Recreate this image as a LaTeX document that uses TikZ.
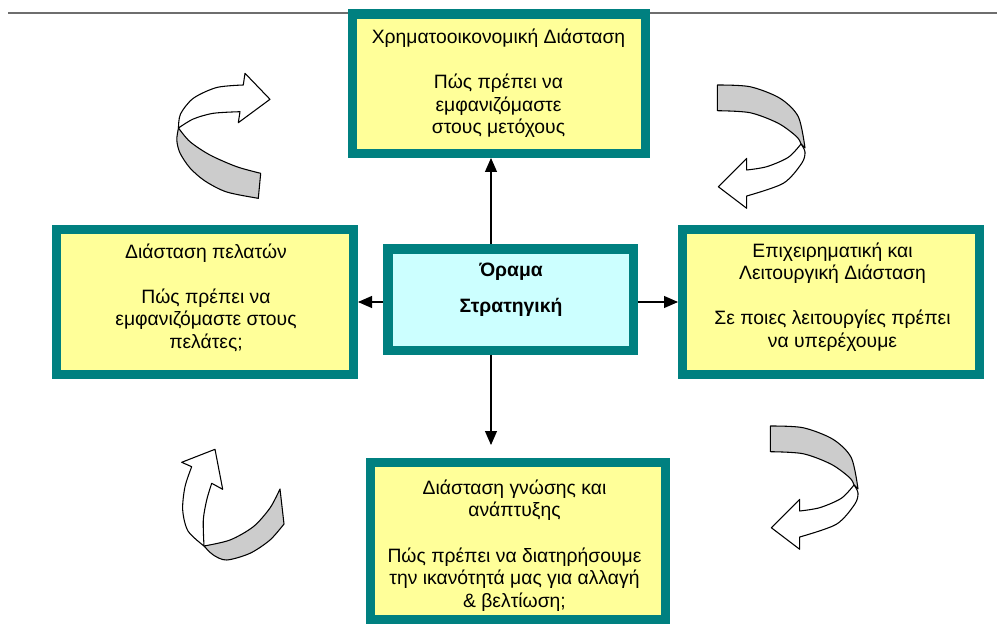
\documentclass[tikz,border=0pt]{standalone}
\usepackage{fontspec}
\setmainfont{Liberation Sans}
\usetikzlibrary{arrows.meta}
\definecolor{frame}{RGB}{0,128,128}
\definecolor{paleyellow}{RGB}{255,255,153}
\definecolor{palecyan}{RGB}{204,255,255}
\definecolor{ribbon}{RGB}{204,204,204}
\definecolor{rulegray}{RGB}{110,110,110}

\begin{document}
\begin{tikzpicture}[x=0.75pt,y=-0.75pt,
  panel/.style={rectangle, draw=frame, line width=7.1pt, fill=paleyellow, inner sep=0pt},
  core/.style={panel, fill=palecyan},
  txt/.style={align=center, inner sep=0pt, font=\fontsize{14.5pt}{16.9pt}\selectfont},
  link/.style={line width=0.8pt, -{Triangle[length=10.5pt,width=9pt]}},
  back/.style={fill=ribbon, draw=black, line width=0.8pt, line join=round},
  face/.style={fill=white, draw=black, line width=0.8pt, line join=round}]
\useasboundingbox (0,0) rectangle (997,625);

% header rule
\draw[rulegray, line width=1.2pt] (8,13) -- (997,13);

% panels
\node[panel, minimum width=219.4pt, minimum height=104.6pt] (fin)   at (499,83.5) {};
\node[panel, minimum width=222.4pt, minimum height=108.4pt] (cust)  at (205,302) {};
\node[panel, minimum width=222.4pt, minimum height=108.4pt] (ops)   at (831,302) {};
\node[panel, minimum width=220.9pt, minimum height=117.4pt] (learn) at (518,541) {};
\node[core,  minimum width=184.1pt, minimum height=76.1pt]  (core)  at (510.5,299.5) {};

% panel texts
\node[txt] (fintxt) at (498.5,83.5)
  {Χρηματοοικονομική Διάσταση\\[16.9pt]Πώς πρέπει να\\εμφανιζόμαστε\\στους μετόχους};
\node[txt] (custtxt) at (206,297.5)
  {Διάσταση πελατών\\[16.9pt]Πώς πρέπει να\\εμφανιζόμαστε στους\\πελάτες;};
\node[txt] (opstxt) at (832.5,297)
  {Επιχειρηματική και\\Λειτουργική Διάσταση\\[16.9pt]Σε ποιες λειτουργίες πρέπει\\να υπερέχουμε};
\node[txt] (learntxt) at (514.5,545.5)
  {Διάσταση γνώσης και\\ανάπτυξης\\[16.9pt]Πώς πρέπει να διατηρήσουμε\\την ικανότητά μας για αλλαγή\\\& βελτίωση;};
\node[txt, font=\fontsize{14.5pt}{16.9pt}\selectfont\bfseries] (coretxt) at (511,290)
  {Όραμα\\[10pt]Στρατηγική};

% connectors
\coordinate (col) at (491,0);
\coordinate (row) at (0,302);
\draw[link] (core.north -| col) -- (fin.south -| col);
\draw[link, shorten >=9.75pt] (core.south -| col) -- (learn.north -| col);
\draw[link] (core.west |- row) -- (cust.east |- row);
\draw[link] (core.east |- row) -- (ops.west |- row);

% curved ribbon arrow, upper left (twist point on the outer edge)
\filldraw[back] (178.5,128) -- plot[smooth] coordinates
  {(178.5,128) (176.8,140) (180,153) (190,168) (205,181) (226.7,192) (258.3,198.3)}
  -- (260.7,173.3) -- plot[smooth] coordinates
  {(260.7,173.3) (236.7,166.7) (210,155) (190,141.7) (178.5,128)} -- cycle;
\filldraw[face] (178.5,128) -- plot[smooth] coordinates
  {(178.5,128) (180.5,114) (193.3,98.3) (216.7,87.5) (243.3,85)}
  -- (245,73.3) -- (270,99.3) -- (238.3,122.7) -- (240,111.7)
  -- plot[smooth] coordinates {(240,111.7) (213.3,113.3) (193.3,119) (178.5,128)}
  -- cycle;

% curved ribbon arrow, lower left
\filldraw[back] (204,546) -- plot[smooth] coordinates
  {(204,546) (230,540) (253.3,526.7) (270,508) (280,489)}
  -- (284,524) -- plot[smooth] coordinates
  {(284,524) (270,540) (250,553.3) (226.7,560) (213.3,555) (204,546)} -- cycle;
\filldraw[face] (204,546) -- plot[smooth] coordinates
  {(204,546) (188,531) (182.7,510) (185,486.7) (191.7,466.7)}
  -- (181.7,462.3) -- (215,449.3) -- (222.7,489.3) -- (211.7,483.3)
  -- plot[smooth] coordinates {(211.7,483.3) (206.7,500) (203.3,520) (204,546)}
  -- cycle;

% curved ribbon arrows, right side (same shape twice)
\foreach \dx/\dy in {0/0, 53/341} {
\begin{scope}[shift={(\dx,\dy)}]
\filldraw[back] (717.3,85) -- plot[smooth] coordinates
  {(717.3,85) (750,86.7) (780,98.3) (798.3,116.7) (805,148)}
  -- plot[smooth] coordinates
  {(801,144) (796.7,136.7) (778.3,123.3) (750,112.7) (717.3,110.7)} -- cycle;
\filldraw[face] (801,144) -- plot[smooth] coordinates
  {(801,144) (805,152) (801.7,163.3) (783.3,183.3) (746.7,196)}
  -- (746.7,208.3) -- (718.3,186.7) -- (746.7,158.3) -- (746.7,170)
  -- plot[smooth] coordinates {(746.7,170) (766.7,166.7) (788.3,157.3) (801,144)}
  -- cycle;
\end{scope}
}
\end{tikzpicture}
\end{document}
